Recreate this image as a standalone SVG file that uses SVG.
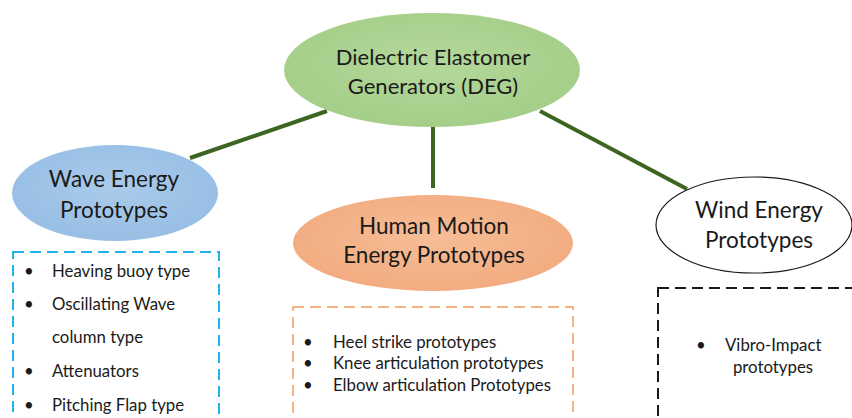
<svg xmlns="http://www.w3.org/2000/svg" width="852" height="418" viewBox="0 0 852 418">
<defs>
<radialGradient id="gGreen" cx="50%" cy="45%" r="60%"><stop offset="0" stop-color="#b5d89c"/><stop offset="1" stop-color="#a3cd86"/></radialGradient>
<radialGradient id="gBlue" cx="50%" cy="45%" r="60%"><stop offset="0" stop-color="#a9cbeb"/><stop offset="1" stop-color="#96bde4"/></radialGradient>
<radialGradient id="gOrange" cx="50%" cy="45%" r="60%"><stop offset="0" stop-color="#f6bd96"/><stop offset="1" stop-color="#f2aa7e"/></radialGradient>
</defs>
<style>
.t{font-family:Lato,"Open Sans","Liberation Sans",sans-serif;fill:#1a1a1a;text-anchor:middle}
.big{font-size:22.5px}
.title{font-size:22px}
.item{font-family:Lato,"Open Sans","Liberation Sans",sans-serif;fill:#1a1a1a;font-size:16.8px}
.conn{stroke:#3b6520;stroke-width:4;fill:none;stroke-linecap:butt}
.box{fill:none;stroke-width:2;stroke-dasharray:11 6}
</style>
<rect width="852" height="418" fill="#ffffff"/>
<g id="connectors">
<line class="conn" x1="327" y1="111" x2="190" y2="158"/>
<line class="conn" x1="433" y1="127" x2="433" y2="188"/>
<line class="conn" x1="540" y1="111" x2="687" y2="189"/>
</g>
<g id="deg">
<ellipse cx="432" cy="70" rx="148" ry="57" fill="url(#gGreen)"/>
<text class="t title" x="433" y="65">Dielectric Elastomer</text>
<text class="t title" x="433" y="94">Generators (DEG)</text>
</g>
<g id="wave">
<ellipse cx="115" cy="193" rx="103" ry="48" fill="url(#gBlue)"/>
<text class="t big" x="114" y="187">Wave Energy</text>
<text class="t big" x="114" y="218">Prototypes</text>
</g>
<g id="human">
<ellipse cx="433" cy="243" rx="140" ry="48" fill="url(#gOrange)"/>
<text class="t big" x="434" y="234">Human Motion</text>
<text class="t big" x="434" y="263">Energy Prototypes</text>
</g>
<g id="wind">
<ellipse cx="754" cy="225" rx="98" ry="48" fill="#ffffff" stroke="#1a1a1a" stroke-width="1.2"/>
<text class="t big" x="759" y="218">Wind Energy</text>
<text class="t big" x="759" y="248">Prototypes</text>
</g>
<g id="wave-list">
<rect class="box" x="13" y="252" width="206" height="180" stroke="#1fb4ee"/>
<g class="item">
<text x="24" y="277">•</text><text x="52" y="277">Heaving buoy type</text>
<text x="24" y="310">•</text><text x="52" y="310">Oscillating Wave</text>
<text x="52" y="343">column type</text>
<text x="24" y="377">•</text><text x="52" y="377">Attenuators</text>
<text x="24" y="411">•</text><text x="52" y="411">Pitching Flap type</text>
</g>
</g>
<g id="human-list">
<rect class="box" x="293" y="307" width="280" height="130" stroke="#f4b183"/>
<g class="item">
<text x="303" y="348">•</text><text x="333" y="348">Heel strike prototypes</text>
<text x="303" y="369">•</text><text x="333" y="369">Knee articulation prototypes</text>
<text x="303" y="391">•</text><text x="333" y="391">Elbow articulation Prototypes</text>
</g>
</g>
<g id="wind-list">
<rect class="box" x="658" y="288" width="220" height="150" stroke="#1a1a1a" stroke-width="2.5" stroke-dasharray="13 7"/>
<g class="item">
<text x="696" y="351">•</text><text x="725" y="351">Vibro-Impact</text>
<text x="773" y="373" text-anchor="middle">prototypes</text>
</g>
</g>
</svg>
